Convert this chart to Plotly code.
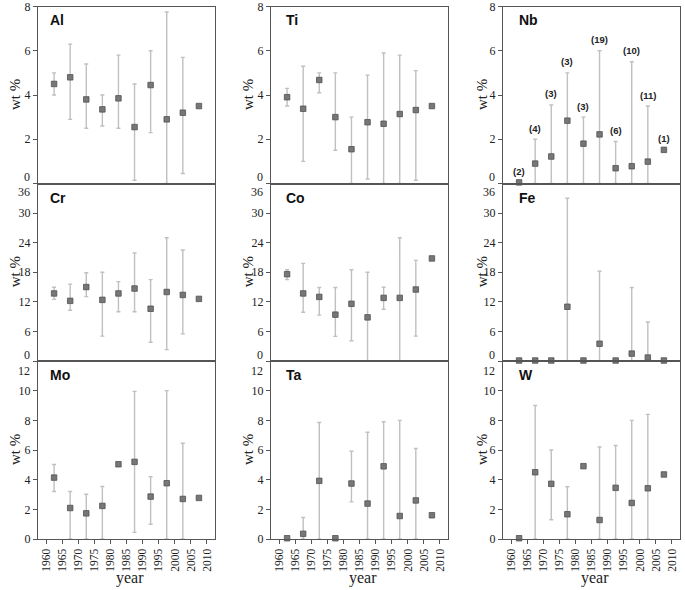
import plotly.graph_objects as go

# ---------------- data ----------------
years = [1962.5, 1967.5, 1972.5, 1977.5, 1982.5, 1987.5, 1992.5, 1997.5, 2002.5, 2007.5]
x_ticks = [1960, 1965, 1970, 1975, 1980, 1985, 1990, 1995, 2000, 2005, 2010]

al_mean = [4.5, 4.8, 3.8, 3.35, 3.85, 2.55, 4.45, 2.9, 3.2, 3.5]
al_hi = [5.0, 6.3, 5.4, 4.0, 5.8, 4.5, 6.0, 7.75, 5.7, None]
al_lo = [4.0, 2.9, 2.5, 2.6, 2.5, 0.15, 2.3, 0.0, 0.45, None]

ti_mean = [3.9, 3.38, 4.68, 3.0, 1.55, 2.77, 2.7, 3.14, 3.32, 3.5]
ti_hi = [4.3, 5.3, 5.0, 5.0, 3.0, 4.9, 5.9, 5.8, 5.1, None]
ti_lo = [3.5, 1.0, 4.1, 1.5, 0.0, 0.2, 0.0, 0.0, 0.15, None]

nb_mean = [0.05, 0.9, 1.22, 2.84, 1.8, 2.22, 0.69, 0.78, 0.99, 1.52]
nb_hi = [None, 2.0, 3.55, 5.0, 3.0, 6.0, 1.9, 5.5, 3.5, None]
nb_lo = [None, 0.0, 0.0, 0.0, 0.0, 0.0, 0.0, 0.0, 0.0, None]
nb_n = [2, 4, 3, 3, 3, 19, 6, 10, 11, 1]

cr_mean = [13.7, 12.2, 15.0, 12.4, 13.7, 14.7, 10.6, 14.0, 13.4, 12.6]
cr_hi = [14.95, 15.6, 17.9, 18.0, 16.1, 21.9, 16.5, 25.0, 22.5, None]
cr_lo = [12.5, 10.3, 13.05, 5.05, 10.0, 10.0, 3.8, 2.3, 5.5, None]

co_mean = [17.6, 13.7, 13.0, 9.4, 11.6, 8.85, 12.8, 12.8, 14.5, 20.8]
co_hi = [18.5, 19.8, 14.9, 14.9, 18.5, 18.0, 14.95, 25.0, 20.4, None]
co_lo = [16.5, 9.9, 9.3, 5.0, 4.1, 0.0, 10.5, 0.0, 5.05, None]

fe_mean = [0.1, 0.1, 0.1, 11.0, 0.1, 3.5, 0.1, 1.5, 0.7, 0.1]
fe_hi = [None, None, None, 33.0, None, 18.2, None, 14.9, 7.9, None]
fe_lo = [None, None, None, 0.0, None, 0.0, None, 0.0, 0.0, None]

mo_mean = [4.14, 2.09, 1.73, 2.23, 5.04, 5.2, 2.86, 3.76, 2.7, 2.77]
mo_hi = [5.02, 3.2, 3.02, 3.54, None, 9.95, 4.2, 10.0, 6.46, None]
mo_lo = [3.2, 0.0, 0.0, 0.0, None, 0.45, 0.99, 0.0, 0.0, None]

ta_mean = [0.05, 0.35, 3.92, 0.05, 3.74, 2.39, 4.9, 1.55, 2.6, 1.6]
ta_hi = [None, 1.45, 7.85, None, 5.92, 7.2, 7.9, 8.0, 6.1, None]
ta_lo = [None, 0.0, 0.0, None, 2.5, 0.0, 0.0, 0.0, 0.0, None]

w_mean = [0.05, 4.5, 3.72, 1.67, 4.91, 1.28, 3.45, 2.43, 3.42, 4.35]
w_hi = [None, 9.0, 6.0, 3.52, None, 6.2, 6.3, 8.0, 8.4, None]
w_lo = [None, 0.0, 1.3, 0.0, None, 0.0, 0.0, 0.0, 0.0, None]

panel_names = ["Al", "Ti", "Nb", "Cr", "Co", "Fe", "Mo", "Ta", "W"]
row_ticks = [[0, 2, 4, 6, 8], [0, 6, 12, 18, 24, 30, 36], [0, 2, 4, 6, 8, 10, 12]]
row_ranges = [[0, 8], [0, 36], [0, 12]]

# ---------------- layout geometry ----------------
W, H = 685, 590
col_px = [(38, 215), (271, 448), (503, 680)]
row_px = [(6.5, 183.5), (183.5, 361), (361, 539)]
label_x_px = [48, 284, 517]
ytitle_x_px = [15, 248, 482]

serif = "Liberation Serif"
sans = "Liberation Sans"
frame = "#555555"

panels = [
    (al_mean, al_hi, al_lo), (ti_mean, ti_hi, ti_lo), (nb_mean, nb_hi, nb_lo),
    (cr_mean, cr_hi, cr_lo), (co_mean, co_hi, co_lo), (fe_mean, fe_hi, fe_lo),
    (mo_mean, mo_hi, mo_lo), (ta_mean, ta_hi, ta_lo), (w_mean, w_hi, w_lo),
]

fig = go.Figure()
layout = {}
annotations = []

for i, (mean, hi, lo) in enumerate(panels):
    r, c = divmod(i, 3)
    k = i + 1
    xs = "" if k == 1 else str(k)
    plus = [(h - m) if h is not None else 0 for h, m in zip(hi, mean)]
    minus = [(m - l) if l is not None else 0 for l, m in zip(lo, mean)]
    fig.add_trace(go.Scatter(
        x=years, y=mean, mode="markers",
        xaxis="x" + xs, yaxis="y" + xs,
        marker=dict(symbol="square", size=5.5, color="#777777",
                    line=dict(color="#505050", width=0.8)),
        error_y=dict(type="data", symmetric=False, array=plus, arrayminus=minus,
                     color="#c0c0c0", thickness=1.4, width=2),
        cliponaxis=False, showlegend=False, hoverinfo="x+y",
    ))
    x0, x1 = col_px[c]
    t, b = row_px[r]
    bottom = (r == 2)
    tv = row_ticks[r]
    tt = [str(v) for v in tv]
    # labels at shared row boundaries are drawn as shifted annotations
    if r == 0:
        tt[0] = ""
    elif r == 1:
        tt[0] = ""
        tt[-1] = ""
    else:
        tt[-1] = ""
    layout["xaxis" + xs] = dict(
        domain=[x0 / W, x1 / W], range=[1957.5, 2012.5], anchor="y" + xs,
        showline=True, mirror=True, linecolor=frame, linewidth=1.3,
        showgrid=False, zeroline=False,
        tickvals=x_ticks, ticktext=[str(v) for v in x_ticks],
        ticks="outside" if bottom else "", ticklen=4, tickcolor=frame,
        showticklabels=bottom, tickangle=-90, ticklabeloverflow="allow",
        tickfont=dict(family=serif, size=11.5, color="#222222"),
        automargin=False, fixedrange=True,
    )
    layout["yaxis" + xs] = dict(
        domain=[1 - b / H, 1 - t / H], range=row_ranges[r], anchor="x" + xs,
        showline=True, mirror=True, linecolor=frame, linewidth=1.3,
        showgrid=False, zeroline=False,
        tickvals=tv, ticktext=tt, ticks="outside", ticklen=4, tickcolor=frame,
        ticklabeloverflow="allow",
        tickfont=dict(family=serif, size=12, color="#222222"),
        automargin=False, fixedrange=True,
    )
    # edge labels
    if r == 0:
        edge = [(tv[0], -7)]
    elif r == 1:
        edge = [(tv[0], -6), (tv[-1], 9)]
    else:
        edge = [(tv[-1], 10)]
    for val, dy in edge:
        annotations.append(dict(
            xref="x%s domain" % xs, yref="y" + xs, x=0, y=val,
            xanchor="right", yanchor="middle", xshift=-6, yshift=-dy,
            text=str(val), showarrow=False,
            font=dict(family=serif, size=12, color="#222222")))
    # panel label
    annotations.append(dict(
        xref="paper", yref="paper", x=label_x_px[c] / W, y=1 - (t + 14) / H,
        xanchor="left", yanchor="middle", text="<b>%s</b>" % panel_names[i],
        showarrow=False, font=dict(family=sans, size=14, color="#111111")))
    # y title
    annotations.append(dict(
        xref="paper", yref="paper", x=ytitle_x_px[c] / W, y=1 - ((t + b) / 2) / H,
        xanchor="center", yanchor="middle", text="wt %", textangle=-90,
        showarrow=False, font=dict(family=serif, size=15, color="#222222")))
    if bottom:
        annotations.append(dict(
            xref="paper", yref="paper", x=((x0 + x1) / 2 + 3) / W, y=1 - 578 / H,
            xanchor="center", yanchor="middle", text="year",
            showarrow=False, font=dict(family=serif, size=16, color="#222222")))

# Nb sample counts
for yr, m, h, n in zip(years, nb_mean, nb_hi, nb_n):
    annotations.append(dict(
        xref="x3", yref="y3", x=yr, y=h if h is not None else m,
        xanchor="center", yanchor="middle", yshift=11,
        text="<b>(%d)</b>" % n, showarrow=False,
        font=dict(family=sans, size=9.5, color="#222222")))

fig.update_layout(
    width=W, height=H, margin=dict(l=0, r=0, t=0, b=0),
    paper_bgcolor="white", plot_bgcolor="white",
    annotations=annotations, showlegend=False, **layout)

fig.write_html(
    "out.html",
    config={"displayModeBar": False},
    post_script="document.body.style.margin='0';document.body.style.padding='0';",
)
